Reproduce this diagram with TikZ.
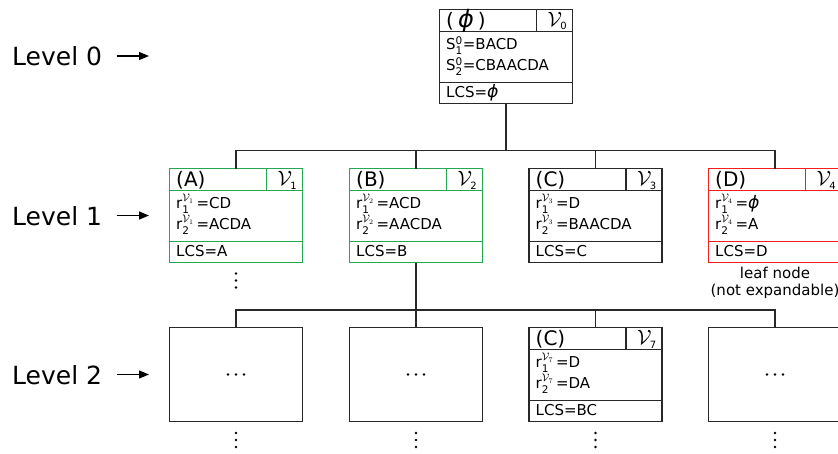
\documentclass[tikz,border=0pt]{standalone}
\usepackage{amsmath}
\usepackage{graphicx}
\usepackage{fontspec}
\setmainfont{DejaVu Sans}
\usetikzlibrary{arrows.meta}
\definecolor{boxgreen}{RGB}{34,168,80}
\definecolor{boxred}{RGB}{240,30,30}
\definecolor{edge}{RGB}{40,40,40}
\tikzset{
  boxst/.style={draw=#1, line width=1.3pt, inner sep=0pt, outer sep=0pt, anchor=north west,
    minimum width=133pt, minimum height=94pt},
  hdr/.style={inner sep=0pt, font=\fontsize{20}{20}\selectfont},
  body/.style={inner sep=0pt, font=\fontsize{15}{15}\selectfont},
  lvl/.style={inner sep=0pt, font=\fontsize{25}{25}\selectfont},
  note/.style={inner sep=0pt, font=\fontsize{15}{15}\selectfont},
  conn/.style={draw=edge, line width=1.3pt},
  arr/.style={draw=black, line width=1.3pt, -{Triangle[length=10pt,width=8pt]}},
}
\newcommand{\bigphi}{\scalebox{1.15}{\itshape ϕ}}
\newcommand{\rr}[3]{#1\smash{$^{#2}_{\text{#3}}$}}
% name, left x, top y, colour, header, nu index, line1, line2, lcs
\newcommand{\tbox}[9]{%
  \node[boxst=#4] (#1) at (#2,#3) {};
  \draw[#4, line width=1.3pt] ([yshift=-22pt]#1.north west) -- ([yshift=-22pt]#1.north east);
  \draw[#4, line width=1.3pt] ([yshift=21pt]#1.south west) -- ([yshift=21pt]#1.south east);
  \draw[#4, line width=1.3pt] ([xshift=-36pt]#1.north east) -- ([xshift=-36pt,yshift=-22pt]#1.north east);
  \node[hdr, anchor=base west] (#1h) at ([xshift=6.5pt,yshift=-18.4pt]#1.north west) {#5};
  \node[hdr, anchor=base west] (#1v) at ([xshift=-25pt,yshift=-17.4pt]#1.north east) {$\mathcal{V}_{\scriptscriptstyle\text{#6}}$};
  \node[body, anchor=base west] (#1a) at ([xshift=6.5pt,yshift=-40pt]#1.north west) {#7};
  \node[body, anchor=base west] (#1b) at ([xshift=6.5pt,yshift=-61pt]#1.north west) {#8};
  \node[body, anchor=base west] (#1c) at ([xshift=6.5pt,yshift=-88.4pt]#1.north west) {#9};
}
\newcommand{\mydotsh}[1]{%
  \foreach \dx in {-8,0,8} {\fill[black] ([xshift=\dx pt]#1) circle (1.3pt);}
}
\newcommand{\mydotsv}[1]{%
  \foreach \dy in {-7,0,7} {\fill[black] ([yshift=\dy pt]#1) circle (1.3pt);}
}
\begin{document}
\begin{tikzpicture}[x=1pt,y=-1pt]
\useasboundingbox (0,0) rectangle (838,453);
\fill[white] (0,0) rectangle (838,453);

% root
\tbox{R}{439.5}{9.3}{edge}{(\hspace{4pt}\scalebox{1.2}{\itshape ϕ}\hspace{4pt})}{0}{S\smash{$^{\text{0}}_{\text{1}}$}=BACD}{S\smash{$^{\text{0}}_{\text{2}}$}=CBAACDA}{LCS=\bigphi}

% level 1
\tbox{A}{169.5}{168.5}{boxgreen}{(A)}{1}{\rr{r}{\mathcal{V}_1}{1}\,=CD}{\rr{r}{\mathcal{V}_1}{2}\,=ACDA}{LCS=A}
\tbox{B}{349.5}{168.5}{boxgreen}{(B)}{2}{\rr{r}{\mathcal{V}_2}{1}\,=ACD}{\rr{r}{\mathcal{V}_2}{2}\,=AACDA}{LCS=B}
\tbox{C}{529}{168.5}{edge}{(C)}{3}{\rr{r}{\mathcal{V}_3}{1}\,=D}{\rr{r}{\mathcal{V}_3}{2}\,=BAACDA}{LCS=C}
\tbox{D}{708.5}{168.5}{boxred}{(D)}{4}{\rr{r}{\mathcal{V}_4}{1}\,=\bigphi}{\rr{r}{\mathcal{V}_4}{2}\,=A}{LCS=D}

\node[note, anchor=base] (leaf1) at ([yshift=-16pt]D.south) {leaf node};
\node[note, anchor=base] (leaf2) at ([yshift=-33pt]D.south) {(not expandable)};

% level 2
\node[boxst=edge] (E) at (169.5,327.5) {};
\node[boxst=edge] (F) at (349.5,327.5) {};
\tbox{G}{529}{327.5}{edge}{(C)}{7}{\rr{r}{\mathcal{V}_7}{1}\,=D}{\rr{r}{\mathcal{V}_7}{2}\,=DA}{LCS=BC}
\node[boxst=edge] (H) at (708.5,327.5) {};

\mydotsh{E.center}
\mydotsh{F.center}
\mydotsh{H.center}

% vertical dots
\coordinate (dA) at ([yshift=-18pt]A.south);
\mydotsv{dA}
\foreach \n in {E,F,G,H} {
  \coordinate (d\n) at ([yshift=-18.5pt]\n.south);
  \mydotsv{d\n}
}

% connectors level 0 -> 1
\coordinate (j0) at (R.south |- 0,150.7);
\draw[conn] (R.south) -- (j0);
\draw[conn] (A.north) |- (j0) -| (D.north);
\draw[conn] (B.north) -- (B.north |- j0);
\draw[conn] (C.north) -- (C.north |- j0);

% connectors level 1 -> 2
\coordinate (j1) at (B.south |- 0,310);
\draw[conn] (B.south) -- (j1);
\draw[conn] (E.north) |- (j1) -| (H.north);
\draw[conn] (F.north) -- (F.north |- j1);
\draw[conn] (G.north) -- (G.north |- j1);

% level labels
\node[lvl, anchor=base west] (L0) at (12,65.5) {Level 0};
\node[lvl, anchor=base west] (L1) at (12,225) {Level 1};
\node[lvl, anchor=base west] (L2) at (12,384) {Level 2};
\coordinate (a0s) at (116.5,56);  \coordinate (a0e) at (149,56);
\coordinate (a1s) at (116.5,215.5); \coordinate (a1e) at (149,215.5);
\coordinate (a2s) at (116.5,374.5); \coordinate (a2e) at (149,374.5);
\draw[arr] (a0s) -- (a0e);
\draw[arr] (a1s) -- (a1e);
\draw[arr] (a2s) -- (a2e);
\end{tikzpicture}
\end{document}
